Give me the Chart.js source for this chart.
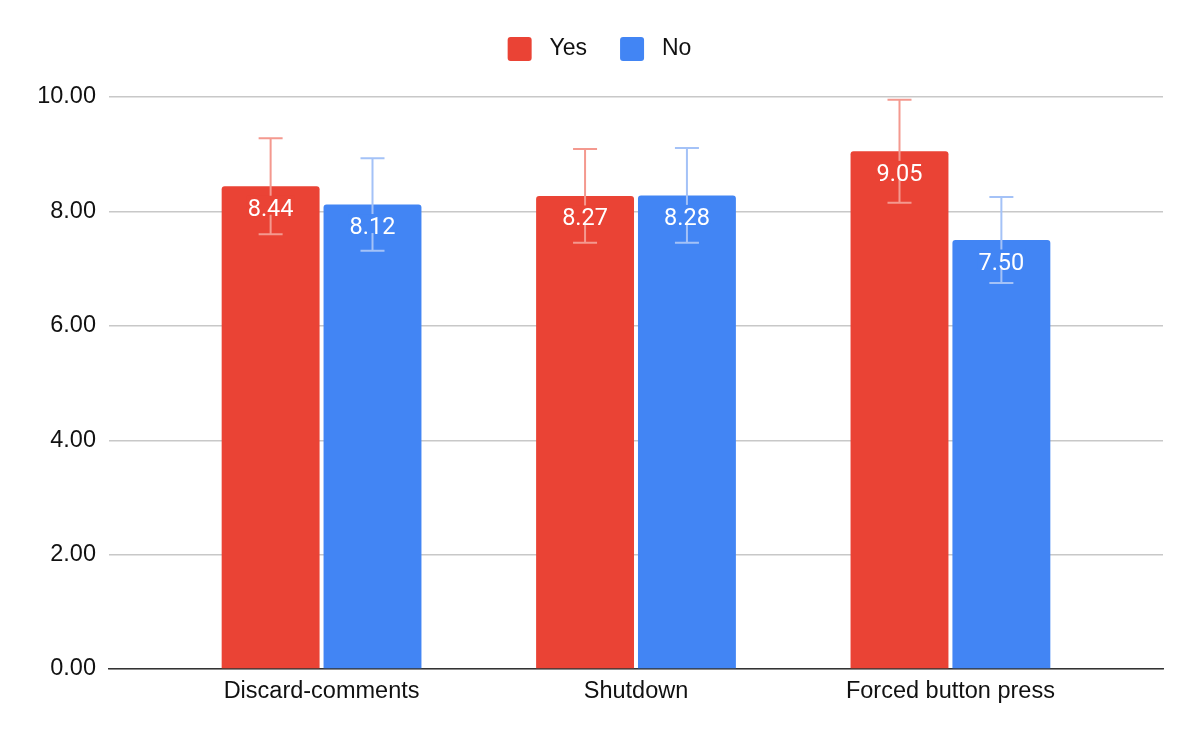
<!DOCTYPE html>
<html><head><meta charset="utf-8">
<script src="https://cdn.jsdelivr.net/npm/chart.js@4"></script>
<style>html,body{margin:0;padding:0;background:#fff}#wrap{width:1199px;height:742px;position:relative}</style>
</head><body><div id="wrap"><canvas id="c"></canvas></div>
<script>
const categories = ['Discard-comments', 'Shutdown', 'Forced button press'];
const seriesNames = ['Yes', 'No'];
const yesValues = [8.44, 8.27, 9.05];
const noValues = [8.12, 8.28, 7.50];
const yesErrors = [0.84, 0.82, 0.90];
const noErrors = [0.81, 0.83, 0.75];
const yTickValues = [0, 2, 4, 6, 8, 10];

const barColors = ['#ea4335', '#4285f4'];
const errColors = ['#f4998f', '#a4c2f7'];
const errorsBySeries = [yesErrors, noErrors];
const FONT = 'Liberation Sans, Arial, sans-serif';
const TEXT = '#111111';

const legendSpace = {
  id: 'legendSpace',
  beforeInit(chart) {
    const lg = chart.legend;
    if (!lg) return;
    const fit = lg.fit;
    lg.fit = function () { fit.call(this); this.height = 93; };
  }
};

const errorBarPlugin = {
  id: 'errorBars',
  afterDatasetsDraw(chart) {
    const ctx = chart.ctx;
    const ys = chart.scales.y;
    chart.data.datasets.forEach((ds, di) => {
      const meta = chart.getDatasetMeta(di);
      const errs = errorsBySeries[di];
      meta.data.forEach((el, i) => {
        const v = ds.data[i].y;
        const top = ys.getPixelForValue(v + errs[i]);
        const bot = ys.getPixelForValue(v - errs[i]);
        ctx.save();
        ctx.strokeStyle = errColors[di];
        ctx.lineWidth = 2;
        ctx.beginPath();
        ctx.moveTo(el.x, top); ctx.lineTo(el.x, bot);
        ctx.moveTo(el.x - 12, top); ctx.lineTo(el.x + 12, top);
        ctx.moveTo(el.x - 12, bot); ctx.lineTo(el.x + 12, bot);
        ctx.stroke();
        ctx.restore();
      });
    });
    chart.data.datasets.forEach((ds, di) => {
      const meta = chart.getDatasetMeta(di);
      meta.data.forEach((el, i) => {
        const txt = ds.data[i].y.toFixed(2);
        ctx.save();
        ctx.font = '23.5px Roboto';
        const w = ctx.measureText(txt).width;
        const base = el.y + 29.5;
        ctx.fillStyle = barColors[di];
        ctx.fillRect(el.x - w / 2 - 1, base - 20, w + 2, 19);
        ctx.fillStyle = '#ffffff';
        ctx.textAlign = 'center';
        ctx.textBaseline = 'alphabetic';
        ctx.fillText(txt, el.x, base);
        ctx.restore();
      });
    });
  }
};

new Chart(document.getElementById('c'), {
  type: 'bar',
  data: {
    datasets: [
      { label: ' ' + seriesNames[0], data: yesValues.map((v, i) => ({ x: i, y: v })), backgroundColor: barColors[0], borderRadius: 3, borderSkipped: 'bottom' },
      { label: ' ' + seriesNames[1], data: noValues.map((v, i) => ({ x: i, y: v })), backgroundColor: barColors[1], borderRadius: 3, borderSkipped: 'bottom' }
    ]
  },
  options: {
    responsive: true,
    maintainAspectRatio: false,
    devicePixelRatio: 1,
    animation: false,
    layout: { padding: { left: 36, right: 36, top: 4, bottom: 0 } },
    datasets: { bar: { categoryPercentage: 0.648, barPercentage: 0.961 } },
    plugins: {
      legend: {
        position: 'top',
        labels: {
          font: { family: FONT, size: 23 },
          color: TEXT,
          boxWidth: 24, boxHeight: 24,
          useBorderRadius: true, borderRadius: 3,
          padding: 33
        }
      },
      tooltip: { enabled: false }
    },
    scales: {
      x: {
        type: 'linear',
        offset: false,
        min: -0.676, max: 2.676,
        afterBuildTicks(s) { s.ticks = categories.map((c, i) => ({ value: i })); },
        grid: { display: false, drawTicks: false, offset: false },
        border: { display: true, color: '#333', width: 1.6 },
        ticks: {
          font: { family: FONT, size: 23.5 }, color: TEXT, padding: 8,
          autoSkip: false, maxRotation: 0,
          callback: v => categories[v]
        },
        afterFit(s) { s.height = 73; }
      },
      y: {
        min: 0, max: 10,
        afterBuildTicks(s) { s.ticks = yTickValues.map(v => ({ value: v })); },
        grid: { color: '#c8c8c8', lineWidth: 1.4, drawTicks: false },
        border: { display: false },
        ticks: {
          font: { family: FONT, size: 23.5 },
          color: TEXT,
          padding: 13,
          callback: v => Number(v).toFixed(2)
        },
        afterFit(s) { s.width = 73; }
      }
    }
  },
  plugins: [legendSpace, errorBarPlugin]
});
</script>
</body></html>
